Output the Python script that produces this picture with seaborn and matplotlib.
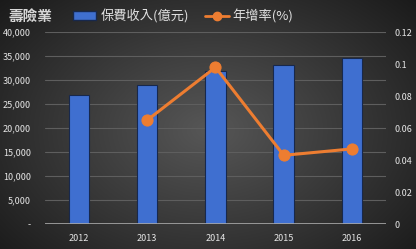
import numpy as np
import pandas as pd
import matplotlib
matplotlib.use("Agg")
import matplotlib.pyplot as plt
import seaborn as sns
from matplotlib.lines import Line2D
from matplotlib.patches import Patch

years = ["2012", "2013", "2014", "2015", "2016"]
premium = [27000, 29000, 31800, 33100, 34700]
growth_years = ["2013", "2014", "2015", "2016"]
growth = [0.065, 0.098, 0.043, 0.047]
left_ticks = [0, 5000, 10000, 15000, 20000, 25000, 30000, 35000, 40000]
left_labels = ["-", "5,000", "10,000", "15,000", "20,000", "25,000", "30,000", "35,000", "40,000"]
right_ticks = [0, 0.02, 0.04, 0.06, 0.08, 0.1, 0.12]
right_labels = ["0", "0.02", "0.04", "0.06", "0.08", "0.1", "0.12"]
title = "壽險業"
bar_label = "保費收入(億元)"
line_label = "年增率(%)"

sns.set_theme(style="dark")
plt.rcParams['font.family'] = ['Noto Sans CJK TC', 'DejaVu Sans']

fig = plt.figure(figsize=(4.16, 2.49), dpi=100)

# radial gradient background
bg = fig.add_axes([0, 0, 1, 1], zorder=0)
yy, xx = np.mgrid[0:249, 0:416]
r = np.sqrt(((xx - 208) / 260.0) ** 2 + ((yy - 130) / 180.0) ** 2)
val = np.clip(0.34 - 0.22 * r, 0.10, 0.34)
img = np.dstack([val, val, val])
bg.imshow(img, aspect='auto', extent=[0, 1, 0, 1])
bg.axis('off')

ax = fig.add_axes([0.108, 0.100, 0.820, 0.771], zorder=1)
ax.set_facecolor('none')
df = pd.DataFrame({"year": years, "premium": premium})
sns.barplot(data=df, x="year", y="premium", order=years, ax=ax, color="#3f6fd0",
            width=0.3, edgecolor="#17284d", linewidth=0.8, saturation=1, zorder=3)
for p in ax.patches:
    p.set_zorder(3)

ax.set_ylim(0, 40000)
ax.set_yticks(left_ticks)
ax.set_yticklabels(left_labels)
ax.set_xlim(-0.5, len(years) - 0.5)
ax.set_xlabel("")
ax.set_ylabel("")
ax.yaxis.grid(True, color="#5e5e5e", linewidth=0.8)
ax.xaxis.grid(False)
for s in ax.spines.values():
    s.set_visible(False)
ax.axhline(0, color="#a8a8a8", linewidth=1.2, zorder=4)
ax.tick_params(axis='both', colors="#e6e6e6", labelsize=6.5, length=0)
ax.tick_params(axis='y', pad=10)
ax.tick_params(axis='x', pad=7)

ax2 = ax.twinx()
ax2.set_facecolor('none')
ldf = pd.DataFrame({"pos": [years.index(y) for y in growth_years], "growth": growth})
sns.lineplot(data=ldf, x="pos", y="growth", ax=ax2, color="#ed7d31", linewidth=2.2,
             marker="o", markersize=8, markeredgecolor="#ed7d31", zorder=5)
ax2.set_ylim(0, 0.12)
ax2.set_yticks(right_ticks)
ax2.set_yticklabels(right_labels)
ax2.set_xlim(-0.5, len(years) - 0.5)
ax2.set_xlabel("")
ax2.set_ylabel("")
ax2.grid(False)
for s in ax2.spines.values():
    s.set_visible(False)
ax2.tick_params(axis='y', colors="#e6e6e6", labelsize=6.5, length=0, pad=6)

fig.text(0.02, 0.935, title, color="#d8d8d8", fontsize=10.5, fontweight='bold', va='center')
handles = [Patch(facecolor="#3f6fd0", edgecolor="#17284d"),
           Line2D([0], [0], color="#ed7d31", linewidth=2, marker="o", markersize=6)]
fig.legend(handles, [bar_label, line_label], loc='center', bbox_to_anchor=(0.44, 0.935),
           ncol=2, frameon=False, fontsize=9.5, labelcolor="#e0e0e0",
           handlelength=1.8, handletextpad=0.3, columnspacing=1.2)

fig.savefig("out.png", dpi=100)
